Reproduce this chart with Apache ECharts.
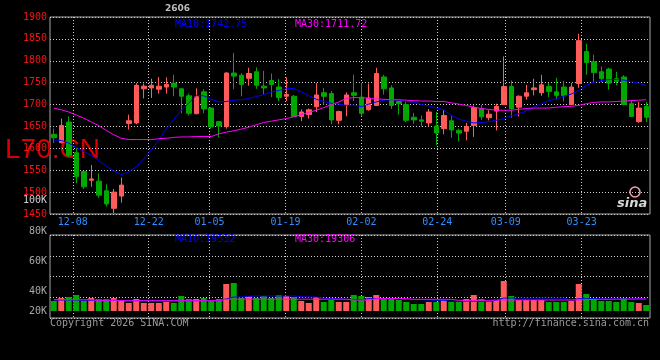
<!DOCTYPE html>
<html><head><meta charset="utf-8">
<script src="https://cdn.jsdelivr.net/npm/echarts@6/dist/echarts.min.js"></script>
<style>html,body{margin:0;padding:0;background:#000}#c{width:660px;height:360px}</style>
</head><body><div id="c"></div>
<script>
const dates = ['12-03','12-04','12-05','12-08','12-09','12-10','12-11','12-12','12-15','12-16',
'12-17','12-18','12-19','12-22','12-23','12-24','12-25','12-26','12-29','12-30',
'12-31','01-05','01-06','01-07','01-08','01-09','01-12','01-13','01-14','01-15',
'01-16','01-19','01-20','01-21','01-22','01-23','01-26','01-27','01-28','01-29',
'01-30','02-02','02-03','02-04','02-05','02-06','02-09','02-10','02-11','02-12',
'02-13','02-24','02-25','02-26','02-27','03-02','03-03','03-04','03-05','03-06',
'03-09','03-10','03-11','03-12','03-13','03-16','03-17','03-18','03-19','03-20',
'03-23','03-24','03-25','03-26','03-27','03-30','03-31','04-01','04-02','04-03'];
const opens = [1632,1613,1660,1590,1547,1527,1525,1503,1463,1491,
1657,1658,1736,1738,1735,1740,1749,1736,1720,1679,
1729,1692,1661,1650,1772,1767,1760,1775,1742,1755,
1740,1719,1719,1673,1677,1695,1727,1725,1664,1699,
1727,1717,1688,1698,1763,1738,1707,1700,1671,1665,
1658,1651,1645,1663,1641,1639,1652,1691,1670,1685,
1700,1741,1694,1719,1734,1727,1741,1729,1740,1700,
1748,1821,1798,1775,1781,1759,1763,1702,1661,1696];
const closes = [1624,1652,1584,1535,1512,1530,1493,1473,1500,1516,
1663,1744,1742,1744,1742,1746,1740,1719,1680,1718,
1690,1649,1651,1772,1765,1746,1771,1744,1738,1746,
1716,1723,1673,1683,1688,1722,1719,1665,1684,1722,
1721,1680,1715,1771,1736,1698,1702,1664,1665,1662,
1683,1635,1675,1642,1635,1650,1693,1672,1678,1696,
1741,1690,1719,1727,1738,1745,1730,1721,1720,1740,
1846,1796,1773,1759,1749,1753,1700,1673,1692,1671];
const lows = [1612,1611,1580,1520,1507,1512,1487,1467,1452,1476,
1643,1655,1714,1715,1725,1725,1719,1680,1675,1678,
1680,1645,1625,1645,1735,1719,1743,1736,1723,1717,
1708,1708,1672,1662,1668,1683,1700,1655,1655,1673,
1708,1673,1686,1697,1723,1690,1677,1660,1656,1650,
1650,1607,1632,1624,1616,1618,1626,1665,1664,1641,
1700,1670,1673,1711,1721,1720,1717,1711,1707,1699,
1738,1768,1750,1751,1734,1744,1698,1672,1658,1660];
const highs = [1645,1668,1673,1600,1548,1562,1543,1518,1507,1533,
1677,1749,1748,1759,1763,1762,1768,1737,1725,1737,
1735,1694,1662,1774,1818,1772,1784,1785,1777,1771,
1758,1762,1722,1689,1691,1749,1738,1731,1686,1728,
1768,1749,1748,1784,1768,1744,1708,1706,1681,1675,
1690,1683,1687,1675,1645,1658,1698,1699,1687,1702,
1810,1755,1721,1745,1759,1768,1749,1761,1754,1749,
1862,1839,1814,1787,1784,1775,1767,1710,1706,1706];
const ma10 = [1619,1618,1612,1602,1593,1584,1572,1559,1548,1540,
1546,1558,1576,1597,1618,1645,1666,1687,1703,1721,
1720,1712,1706,1707,1710,1711,1714,1718,1723,1729,
1732,1736,1737,1729,1720,1712,1707,1703,1701,1698,
1699,1695,1701,1706,1710,1711,1710,1707,1706,1700,
1697,1692,1688,1675,1667,1662,1658,1659,1661,1664,
1668,1674,1679,1685,1694,1702,1709,1713,1719,1724,
1732,1744,1751,1755,1757,1757,1756,1752,1749,1743];
const ma30 = [1692,1688,1683,1676,1669,1660,1652,1641,1631,1623,
1620,1620,1620,1620,1622,1623,1625,1626,1626,1627,
1627,1627,1633,1637,1640,1644,1648,1654,1659,1662,
1665,1668,1672,1677,1682,1687,1693,1700,1706,1714,
1716,1716,1714,1713,1712,1711,1711,1710,1709,1708,
1708,1707,1707,1704,1701,1698,1694,1691,1689,1687,
1687,1687,1689,1691,1692,1692,1692,1694,1695,1696,
1698,1702,1705,1706,1706,1707,1708,1709,1710,1711];
const volumes = [16100,20930,22540,25760,16100,20930,19320,19320,20930,17710,
12880,19320,12880,12880,12880,14490,12880,24150,19320,19320,
20930,16100,19320,43470,45080,20930,24150,20930,24150,20930,
25760,24150,22540,16100,12880,22540,14490,17710,14490,14490,
25760,24150,22540,25760,19320,19320,17710,14490,11270,11270,
14490,14490,17710,14490,14490,19320,25760,19320,16100,17710,
48300,24150,17710,17710,17710,17710,14490,14490,14490,16100,
43470,27370,20930,16100,16100,14490,20930,14490,12880,9660];
const volMa10 = [17700,17700,17700,17700,17200,17200,17200,17200,17200,17200,
16600,16600,16600,16600,16600,16600,16600,16600,16600,16600,
16600,16600,16600,19500,22500,22500,23500,24200,24200,24200,
24200,24200,24200,23000,22500,22500,20500,20000,19500,19000,
18500,18200,19900,19900,19900,19900,19900,18800,18800,18200,
17700,17200,17200,15600,15600,15600,15600,15600,15600,17000,
20900,20900,20900,20900,20900,20900,20900,20900,20900,17700,
19900,19900,19900,19500,19500,19500,19500,19500,19500,19532];
const volMa30 = [18200,18200,18200,18200,18200,18200,16600,16600,16600,16600,
16600,16600,16600,16600,16600,16600,16600,16600,16600,16600,
16600,16600,16600,19000,19000,19000,19000,19000,19000,19000,
19000,19000,19000,19000,19000,19000,19000,19000,19000,19000,
17700,17700,17700,19900,19900,19900,19900,19900,18800,18800,
18800,18800,18800,18800,17200,17200,17200,17200,17200,17700,
17700,17700,17700,17700,17700,17700,17700,17700,17700,17700,
17700,18500,18500,18800,18800,19000,19000,19200,19300,19306];
const priceMin = 1450, priceMax = 1900, priceStep = 50;
const dateLabelIdx = [3,13,21,31,41,51,60,70];
const volTickLabels = ['100K','80K','60K','40K','20K'];
const legendMain = ['MA10:1742.75','MA30:1711.72'];
const legendVol = ['MA10:19532','MA30:19306'];
const symbolName = 'L70.CN';
const topCode = '2606';

const RED = '#ff5b5b', GREEN = '#00a800';
const gridLine = {color:'#cfcfcf', type:[1,2], width:1};
const mono = 'DejaVu Sans Mono';
const isLab = (i) => dateLabelIdx.indexOf(i) >= 0;

const chart = echarts.init(document.getElementById('c'), null, {renderer:'canvas'});
const volY = [200,231,261,291,311];
chart.setOption({
  backgroundColor:'#000',
  animation:false,
  grid:[
    {left:50, top:17, width:600, height:197, show:true, borderColor:'#a8a8a8', borderWidth:1},
    {left:50, top:235, width:600, height:83, show:true, borderColor:'#a8a8a8', borderWidth:1}
  ],
  xAxis:[
    {gridIndex:0, type:'category', data:dates, boundaryGap:true, show:false},
    {gridIndex:0, type:'category', data:dates, boundaryGap:false, position:'bottom',
      axisLine:{show:false}, axisTick:{show:false},
      axisLabel:{interval:(i)=>isLab(i), color:'#2e8fff', fontFamily:mono, fontSize:10, margin:3},
      splitLine:{show:true, interval:(i)=>isLab(i), lineStyle:gridLine}},
    {gridIndex:1, type:'category', data:dates, boundaryGap:true, show:false},
    {gridIndex:1, type:'category', data:dates, boundaryGap:false, position:'bottom',
      axisLine:{show:false}, axisTick:{show:false}, axisLabel:{show:false},
      splitLine:{show:true, interval:(i)=>isLab(i), lineStyle:gridLine}}
  ],
  yAxis:[
    {gridIndex:0, type:'value', min:priceMin, max:priceMax, interval:priceStep,
      axisLine:{show:false}, axisTick:{show:false},
      axisLabel:{color:'#f01414', fontFamily:mono, fontSize:10, margin:3, formatter:(v)=>String(v)},
      splitLine:{show:true, lineStyle:gridLine}},
    {gridIndex:1, type:'value', min:-11270, max:122360, show:false},
    {gridIndex:1, type:'value', min:0, max:4, interval:1,
      axisLine:{show:false}, axisTick:{show:false}, axisLabel:{show:false},
      splitLine:{show:true, lineStyle:gridLine}}
  ],
  series:[
    {type:'candlestick', xAxisIndex:0, yAxisIndex:0, barWidth:5,
      data: opens.map((o,i)=>[o, closes[i], lows[i], highs[i]]),
      itemStyle:{color:RED, color0:GREEN, borderColor:RED, borderColor0:GREEN, borderWidth:1}},
    {type:'line', xAxisIndex:0, yAxisIndex:0, data:ma10, symbol:'none', smooth:false,
      lineStyle:{color:'#0000ff', width:1}},
    {type:'line', xAxisIndex:0, yAxisIndex:0, data:ma30, symbol:'none', smooth:false,
      lineStyle:{color:'#ff00ff', width:1}},
    {type:'bar', xAxisIndex:2, yAxisIndex:1, barWidth:6,
      data: volumes.map((v,i)=>({value:v, itemStyle:{color: closes[i] >= opens[i] ? RED : GREEN}}))},
    {type:'line', xAxisIndex:2, yAxisIndex:1, data:volMa10, symbol:'none',
      lineStyle:{color:'#0000ff', width:1}},
    {type:'line', xAxisIndex:2, yAxisIndex:1, data:volMa30, symbol:'none',
      lineStyle:{color:'#ff00ff', width:1}}
  ],
  graphic:[
    {type:'text', left:165, top:4, style:{text:topCode, fill:'#bdbdbd', font:'bold 9px "DejaVu Sans"'}},
    {type:'text', x:5, y:150, style:{text:symbolName, fill:'#d80000', font:'28px "Liberation Sans"', verticalAlign:'middle'}},
    {type:'text', x:175, y:24, style:{text:legendMain[0], fill:'#0000ff', font:'10px "'+mono+'"', verticalAlign:'middle'}},
    {type:'text', x:295, y:24, style:{text:legendMain[1], fill:'#ff00ff', font:'10px "'+mono+'"', verticalAlign:'middle'}},
    {type:'text', x:175, y:239, style:{text:legendVol[0], fill:'#0000ff', font:'10px "'+mono+'"', verticalAlign:'middle'}},
    {type:'text', x:295, y:239, style:{text:legendVol[1], fill:'#ff00ff', font:'10px "'+mono+'"', verticalAlign:'middle'}}
  ].concat(volTickLabels.map((t,k)=>({type:'text', x:47, y:volY[k],
      style:{text:t, fill: k===0 ? '#cfcfcf' : '#a8a8a8', font:'10px "'+mono+'"', align:'right', verticalAlign:'middle'}})))
   .concat([
    {type:'text', x:50, y:323, style:{text:'Copyright 2026 SINA.COM', fill:'#9a9a9a', font:'10px "'+mono+'"', verticalAlign:'middle'}},
    {type:'text', x:649, y:323, style:{text:'http://finance.sina.com.cn', fill:'#9a9a9a', font:'10px "'+mono+'"', align:'right', verticalAlign:'middle'}},
    {type:'circle', shape:{cx:635, cy:192, r:5}, style:{fill:'none', stroke:'#f4a0b0', lineWidth:1.5}},
    {type:'text', x:617, y:204, style:{text:'sina', fill:'#d8d8d8', font:'italic bold 13px "DejaVu Sans"', verticalAlign:'middle'}}
  ])
});
</script></body></html>
